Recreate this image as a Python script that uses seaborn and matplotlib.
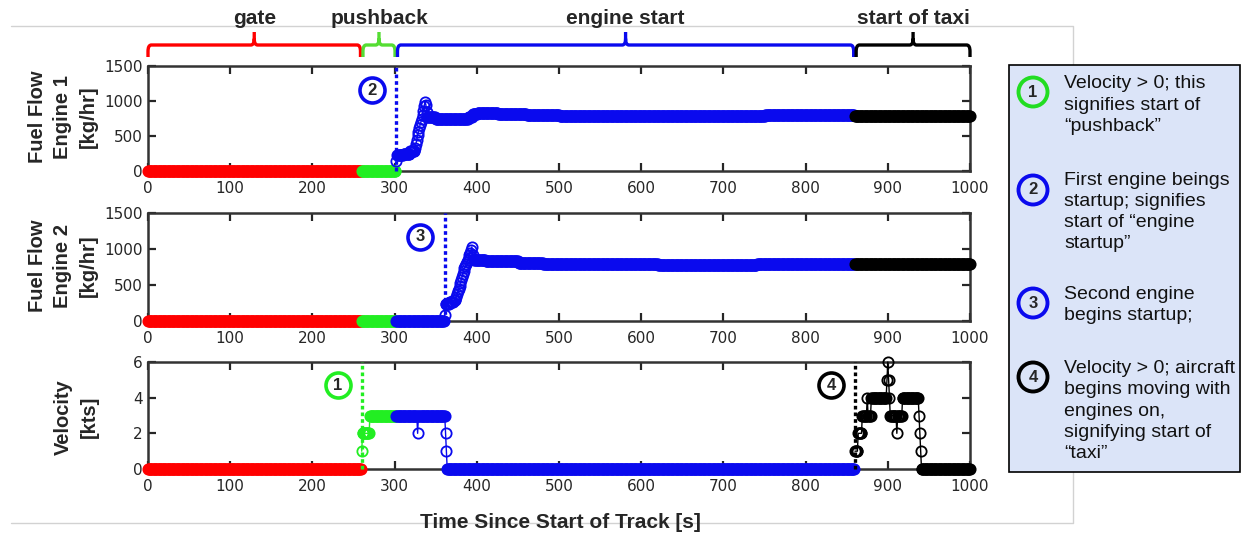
import numpy as np
import pandas as pd
import matplotlib
matplotlib.use("Agg")
import matplotlib.pyplot as plt
import seaborn as sns
from matplotlib.path import Path
from matplotlib.patches import PathPatch, Circle, Rectangle
from matplotlib.lines import Line2D
from matplotlib.transforms import blended_transform_factory

# ---------------------------------------------------------------- data
# one sample per second, 0 ... 1000 s
time_s = np.arange(0, 1001)

# fuel flow, engine 1 [kg/hr] as (level, number of seconds)
ff1_levels = [0, 150, 230, 250, 280,
              330, 390, 450, 510, 560, 610, 660, 700, 740, 800, 860, 930, 990,
              950, 840,
              770, 750, 745, 770, 810, 835, 820, 800, 790, 780, 790, 780, 790,
              805, 800, 785]
ff1_counts = [302, 1, 8, 8, 6,
              1, 1, 1, 1, 1, 1, 1, 1, 1, 1, 1, 1, 1,
              1, 1,
              10, 20, 20, 5, 6, 25, 35, 40, 30, 40, 30, 100, 50,
              60, 49, 141]

# fuel flow, engine 2 [kg/hr]
ff2_levels = [0, 90, 240, 260, 290,
              330, 370, 410, 450, 490, 530, 570, 610, 650, 690, 730, 760, 790,
              820, 850, 880, 910, 950, 990,
              1030, 920, 860,
              845, 830, 810, 795, 785, 780, 785, 785]
ff2_counts = [361, 1, 5, 5, 3,
              1, 1, 1, 1, 1, 1, 1, 1, 1, 1, 1, 1, 1,
              1, 1, 1, 1, 1, 1,
              1, 1, 1,
              14, 40, 30, 40, 100, 120, 119, 141]

# ground speed [kts]
vel_levels = [0, 1, 2, 3, 2, 3, 2, 1, 0,
              1, 2, 3, 4, 3, 4, 5, 6, 5, 4, 3, 2, 3, 4, 3, 2, 1, 0]
vel_counts = [260, 1, 9, 58, 1, 33, 1, 1, 496,
              4, 5, 6, 1, 4, 19, 1, 1, 1, 1, 8, 1, 6, 20, 1, 1, 1, 60]

phase_names = ["gate", "pushback", "engine start", "start of taxi"]
phase_colors = ["#ff0000", "#22ee22", "#0a0aee", "#000000"]
bracket_colors = ["#ff0000", "#55dd33", "#0a0aee", "#000000"]

ff1 = np.repeat(ff1_levels, ff1_counts)
ff2 = np.repeat(ff2_levels, ff2_counts)
vel = np.repeat(vel_levels, vel_counts)

# event times taken from the series
t_push = time_s[np.argmax(vel > 0)]
t_eng1 = time_s[np.argmax(ff1 > 0)]
t_eng2 = time_s[np.argmax(ff2 > 0)]
after = time_s > t_eng2 + 10
t_taxi = time_s[after][np.argmax(vel[after] > 0)]
edges = [time_s[0], t_push, t_eng1, t_taxi, time_s[-1]]
phase = np.searchsorted(edges[1:-1], time_s, side="right")

# ---------------------------------------------------------------- style
sns.set_theme(style="ticks")
plt.rcParams["font.family"] = ["DejaVu Sans"]
BOLD = dict(family=["Liberation Sans", "DejaVu Sans"], weight="bold")
REG = dict(family=["Liberation Sans", "DejaVu Sans"])

W, H = 1248, 535
fig = plt.figure(figsize=(W / 100, H / 100), dpi=100)
fig.patch.set_facecolor("white")


def fx(px):
    return px / W


def fy(py):
    return 1 - py / H


# thin grey frame
fig.add_artist(Line2D([fx(11), fx(1073), fx(1073), fx(11)],
                      [fy(26), fy(26), fy(523), fy(523)],
                      transform=fig.transFigure, color="#d2d2d2", lw=1.0, zorder=0))

left, width = fx(148), fx(970) - fx(148)
ax1 = fig.add_axes([left, fy(171), width, fy(66) - fy(171)])
ax2 = fig.add_axes([left, fy(321), width, fy(213) - fy(321)])
ax3 = fig.add_axes([left, fy(469), width, fy(362) - fy(469)])

panels = [
    (ax1, ff1, (0, 1500), [0, 500, 1000, 1500], "Fuel Flow\nEngine 1\n[kg/hr]", 63, 117),
    (ax2, ff2, (0, 1500), [0, 500, 1000, 1500], "Fuel Flow\nEngine 2\n[kg/hr]", 63, 266),
    (ax3, vel, (0, 6), [0, 2, 4, 6], "Velocity\n[kts]", 76, 417),
]

for ax, series, ylim, yticks, ylabel, lx, ly in panels:
    df = pd.DataFrame({"t": time_s, "v": series, "phase": phase})
    for i, color in enumerate(phase_colors):
        seg = df[df["phase"] == i]
        sns.lineplot(data=seg, x="t", y="v", ax=ax, color=color,
                     estimator=None, sort=False, legend=False,
                     marker="o", markersize=7.4, markerfacecolor="none",
                     markeredgecolor=color, markeredgewidth=1.3,
                     linewidth=1.0, clip_on=False, zorder=3)
    ax.set_xlim(0, 1000)
    ax.set_ylim(*ylim)
    ax.set_xticks(np.arange(0, 1001, 100))
    ax.set_yticks(yticks)
    ax.set_xlabel("")
    ax.set_ylabel("")
    ax.tick_params(direction="in", length=6, width=1.6, top=True, right=True,
                   labelsize=11, colors="#262626", labelcolor="#262626")
    ax.tick_params(axis="x", pad=7)
    ax.tick_params(axis="y", pad=4)
    for s in ax.spines.values():
        s.set_visible(True)
        s.set_linewidth(1.8)
        s.set_color("#333333")
    fig.text(fx(lx), fy(ly), ylabel, rotation=90, ha="center", va="center",
             multialignment="center", fontsize=14.5, linespacing=1.45, **BOLD)

fig.text(fx(560), fy(522), "Time Since Start of Track [s]", ha="center",
         va="center", fontsize=15, **BOLD)

# event lines and numbered markers
dot = (0, (1.1, 0.9))
events = [
    (ax1, t_eng1, 1500, "#0a0aee", "2", -30, 1157),
    (ax2, t_eng2, 1500, "#0a0aee", "3", -30, 1171),
    (ax3, t_push, 6, "#22ee22", "1", -29, 4.71),
    (ax3, t_taxi, 6, "#000000", "4", -29, 4.69),
]
for ax, t_ev, ytop, color, num, dx, yc in events:
    ax.plot([t_ev, t_ev], [0, ytop], color=color, lw=2.4, ls=dot, zorder=4,
            clip_on=False)
    ax.plot([t_ev + dx], [yc], marker="o", ms=18, mfc="white", mec=color,
            mew=2.6, zorder=5, clip_on=False)
    ax.text(t_ev + dx, yc, num, ha="center", va="center", fontsize=12,
            zorder=6, **BOLD)

# phase braces above the top panel
trans = blended_transform_factory(ax1.transData, fig.transFigure)
y_end, y_bar, y_tip = fy(57), fy(45), fy(32)
r = 0.012
rx = 4.0
M, L, C = Path.MOVETO, Path.LINETO, Path.CURVE3
for i, name in enumerate(phase_names):
    x0 = edges[i] + (1.5 if i > 0 else 0)
    x1 = edges[i + 1] - (1.5 if i < 3 else 0)
    xc = (x0 + x1) / 2
    verts = [(x0, y_end), (x0, y_bar - r), (x0, y_bar), (x0 + rx, y_bar),
             (xc - rx, y_bar), (xc, y_bar), (xc, y_bar + r), (xc, y_tip),
             (xc, y_bar + r), (xc, y_bar), (xc + rx, y_bar),
             (x1 - rx, y_bar), (x1, y_bar), (x1, y_bar - r), (x1, y_end)]
    codes = [M, L, C, C, L, C, C, L, M, C, C, L, C, C, L]
    fig.add_artist(PathPatch(Path(verts, codes), transform=trans, fill=False,
                             ec=bracket_colors[i], lw=2.4, joinstyle="round",
                             capstyle="butt"))
    fig.text(xc, fy(18), name, transform=trans, ha="center", va="center",
             fontsize=15, **BOLD)

# explanatory box on the right
fig.add_artist(Rectangle((fx(1009), fy(472)), fx(1240) - fx(1009),
                         fy(65) - fy(472), transform=fig.transFigure,
                         fc="#dbe4f8", ec="black", lw=1.2, zorder=2))
notes = [
    ("1", "#22dd22", 92, 105, "Velocity > 0; this\nsignifies start of\n\u201cpushback\u201d"),
    ("2", "#0a0aee", 190, 212, "First engine beings\nstartup; signifies\nstart of \u201cengine\nstartup\u201d"),
    ("3", "#0a0aee", 303, 305, "Second engine\nbegins startup;"),
    ("4", "#000000", 377, 411, "Velocity > 0; aircraft\nbegins moving with\nengines on,\nsignifying start of\n\u201ctaxi\u201d"),
]
for num, color, iy, ty, txt in notes:
    fig.add_artist(Circle((1033 / 100, (H - iy) / 100), 0.145,
                          transform=fig.dpi_scale_trans, fill=False,
                          ec=color, lw=2.8, zorder=3))
    fig.text(fx(1033), fy(iy), num, ha="center", va="center", fontsize=12,
             zorder=4, **BOLD)
    fig.text(fx(1064), fy(ty), txt, ha="left", va="center", fontsize=14,
             linespacing=1.33, color="#111111", zorder=4, **REG)

fig.savefig("out.png", dpi=100)
